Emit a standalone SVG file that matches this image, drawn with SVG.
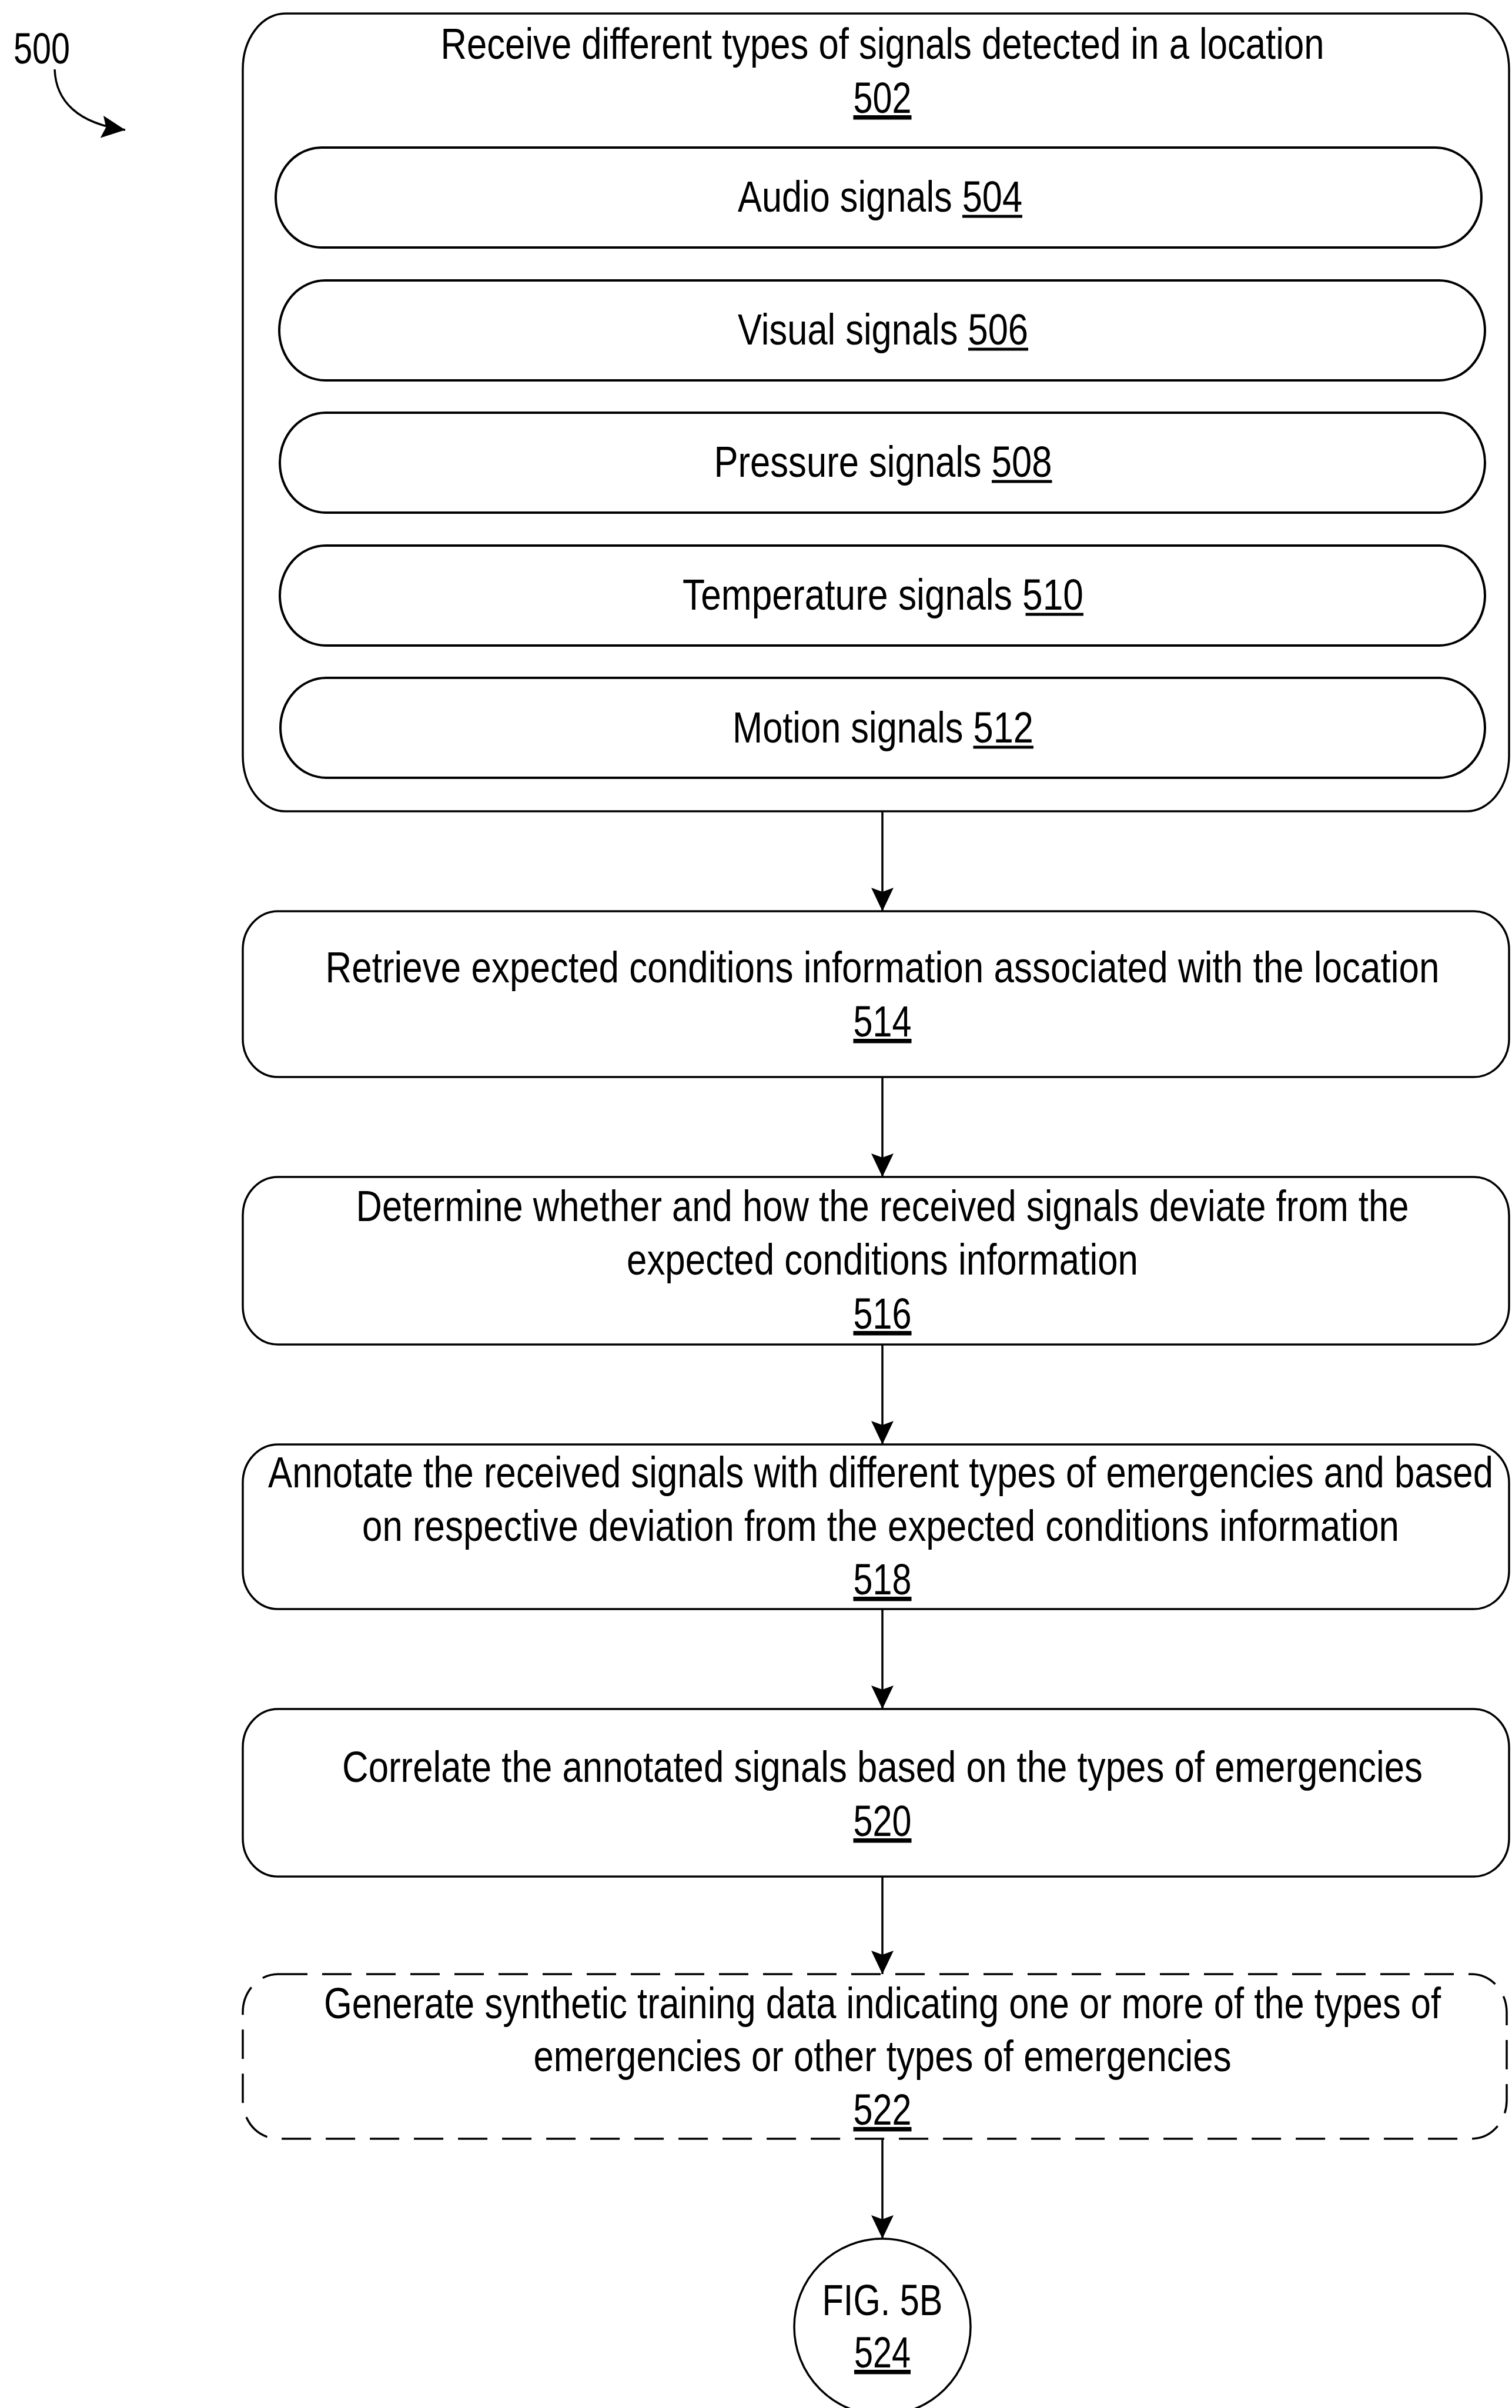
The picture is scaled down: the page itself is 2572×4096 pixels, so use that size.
<svg xmlns="http://www.w3.org/2000/svg" width="2572" height="4096" viewBox="0 0 2572 4096">
<defs>
<style>
.box{fill:#fff;stroke:#000;stroke-width:3.5}
.dash{fill:#fff;stroke:#000;stroke-width:3.5;stroke-dasharray:50 25}
.pill{fill:#fff;stroke:#000;stroke-width:4}
.conn{stroke:#000;stroke-width:3.5;fill:none}
.ul{stroke:#000;stroke-width:5}
text{font-family:"Liberation Sans Narrow","Liberation Sans",Arial,sans-serif;font-size:75px;fill:#000}
.u{text-decoration:underline}
</style>
<marker id="ah" markerUnits="userSpaceOnUse" viewBox="0 0 40 40" refX="40" refY="20" markerWidth="40" markerHeight="40" orient="auto">
<path d="M0,1 L40,20 L0,39 L7,20 Z" fill="#000"/>
</marker>
</defs>
<rect width="2572" height="4096" fill="#fff"/>

<g id="label500">
<text x="23" y="108" text-anchor="start" textLength="96" lengthAdjust="spacingAndGlyphs">500</text>
<path class="conn" d="M93,118 C95,172 132,210 213,221" marker-end="url(#ah)"/>
</g>

<g id="connectors">
<line class="conn" x1="1501" y1="1380" x2="1501" y2="1550" marker-end="url(#ah)"/>
<line class="conn" x1="1501" y1="1832" x2="1501" y2="2002" marker-end="url(#ah)"/>
<line class="conn" x1="1501" y1="2287" x2="1501" y2="2457" marker-end="url(#ah)"/>
<line class="conn" x1="1501" y1="2737" x2="1501" y2="2907" marker-end="url(#ah)"/>
<line class="conn" x1="1501" y1="3192" x2="1501" y2="3358" marker-end="url(#ah)"/>
<line class="conn" x1="1501" y1="3638" x2="1501" y2="3808" marker-end="url(#ah)"/>
</g>

<g id="n502">
<rect class="box" x="413" y="23" width="2154" height="1357" rx="72" ry="95"/>
<text x="749.5" y="100" text-anchor="start" textLength="1503" lengthAdjust="spacingAndGlyphs">Receive different types of signals detected in a location</text>
<text class="u" x="1451.5" y="192" text-anchor="start" textLength="99" lengthAdjust="spacingAndGlyphs">502</text>
</g>

<g id="n504">
<rect class="pill" x="469" y="251" width="2051" height="170" rx="78" ry="85"/>
<text x="1255" y="360" text-anchor="start" textLength="484" lengthAdjust="spacingAndGlyphs">Audio signals 504</text>
<line class="ul" x1="1637" y1="368" x2="1739" y2="368"/>
</g>
<g id="n506">
<rect class="pill" x="475" y="477" width="2051" height="170" rx="78" ry="85"/>
<text x="1255" y="586" text-anchor="start" textLength="494" lengthAdjust="spacingAndGlyphs">Visual signals 506</text>
<line class="ul" x1="1647" y1="594" x2="1749" y2="594"/>
</g>
<g id="n508">
<rect class="pill" x="476" y="702" width="2050" height="170" rx="78" ry="85"/>
<text x="1214.5" y="811" text-anchor="start" textLength="575" lengthAdjust="spacingAndGlyphs">Pressure signals 508</text>
<line class="ul" x1="1687" y1="819" x2="1789.5" y2="819"/>
</g>
<g id="n510">
<rect class="pill" x="476" y="928" width="2050" height="170" rx="78" ry="85"/>
<text x="1161" y="1037" text-anchor="start" textLength="682" lengthAdjust="spacingAndGlyphs">Temperature signals 510</text>
<line class="ul" x1="1744.5" y1="1045" x2="1843" y2="1045"/>
</g>
<g id="n512">
<rect class="pill" x="477" y="1153" width="2049" height="170" rx="78" ry="85"/>
<text x="1246" y="1263" text-anchor="start" textLength="512" lengthAdjust="spacingAndGlyphs">Motion signals 512</text>
<line class="ul" x1="1655.5" y1="1271" x2="1758" y2="1271"/>
</g>

<g id="n514">
<rect class="box" x="413" y="1550" width="2154" height="282" rx="60" ry="65"/>
<text x="553.5" y="1671" text-anchor="start" textLength="1895" lengthAdjust="spacingAndGlyphs">Retrieve expected conditions information associated with the location</text>
<text class="u" x="1451.5" y="1763" text-anchor="start" textLength="99" lengthAdjust="spacingAndGlyphs">514</text>
</g>

<g id="n516">
<rect class="box" x="413" y="2002" width="2154" height="285" rx="60" ry="65"/>
<text x="605.5" y="2077" text-anchor="start" textLength="1791" lengthAdjust="spacingAndGlyphs">Determine whether and how the received signals deviate from the</text>
<text x="1066" y="2168" text-anchor="start" textLength="870" lengthAdjust="spacingAndGlyphs">expected conditions information</text>
<text class="u" x="1451.5" y="2260" text-anchor="start" textLength="99" lengthAdjust="spacingAndGlyphs">516</text>
</g>

<g id="n518">
<rect class="box" x="413" y="2457" width="2154" height="280" rx="60" ry="65"/>
<text x="456" y="2530" text-anchor="start" textLength="2084" lengthAdjust="spacingAndGlyphs">Annotate the received signals with different types of emergencies and based</text>
<text x="616" y="2621" text-anchor="start" textLength="1764" lengthAdjust="spacingAndGlyphs">on respective deviation from the expected conditions information</text>
<text class="u" x="1451.5" y="2712" text-anchor="start" textLength="99" lengthAdjust="spacingAndGlyphs">518</text>
</g>

<g id="n520">
<rect class="box" x="413" y="2907" width="2154" height="285" rx="60" ry="65"/>
<text x="582" y="3031" text-anchor="start" textLength="1838" lengthAdjust="spacingAndGlyphs">Correlate the annotated signals based on the types of emergencies</text>
<text class="u" x="1451.5" y="3123" text-anchor="start" textLength="99" lengthAdjust="spacingAndGlyphs">520</text>
</g>

<g id="n522">
<rect class="dash" x="413" y="3358" width="2150" height="280" rx="60" ry="65"/>
<text x="551" y="3433" text-anchor="start" textLength="1900" lengthAdjust="spacingAndGlyphs">Generate synthetic training data indicating one or more of the types of</text>
<text x="907.5" y="3523" text-anchor="start" textLength="1187" lengthAdjust="spacingAndGlyphs">emergencies or other types of emergencies</text>
<text class="u" x="1451.5" y="3614" text-anchor="start" textLength="99" lengthAdjust="spacingAndGlyphs">522</text>
</g>

<g id="n524">
<circle class="box" cx="1501" cy="3958" r="150"/>
<text x="1398.5" y="3938" text-anchor="start" textLength="205" lengthAdjust="spacingAndGlyphs">FIG. 5B</text>
<text class="u" x="1453" y="4027" text-anchor="start" textLength="96" lengthAdjust="spacingAndGlyphs">524</text>
</g>
</svg>
